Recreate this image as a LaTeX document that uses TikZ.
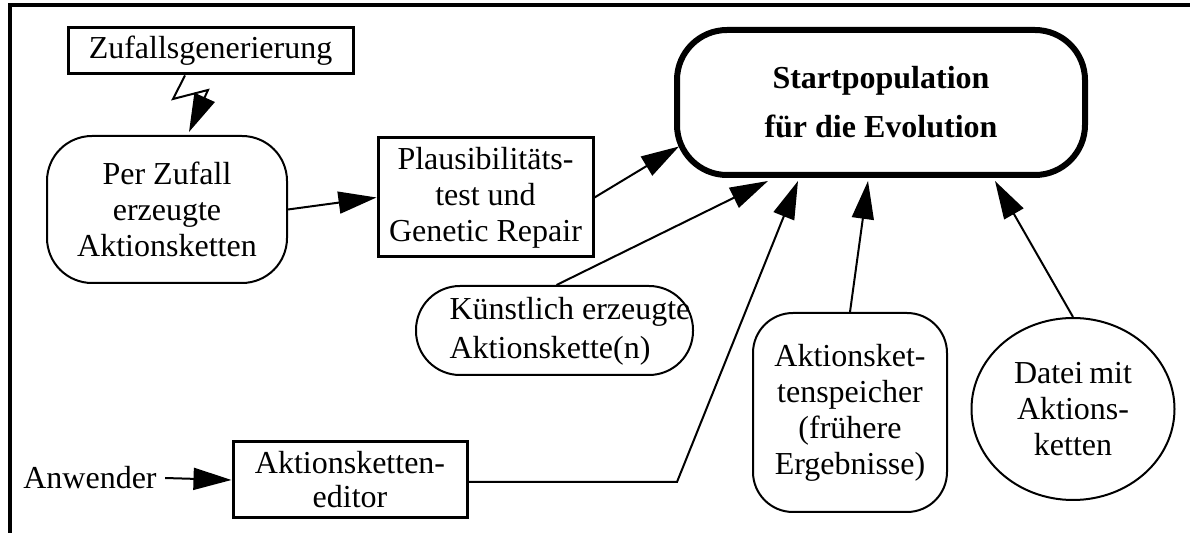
\documentclass[tikz,border=0pt]{standalone}
\usepackage{fontspec}
\setmainfont{Liberation Serif}
\usetikzlibrary{arrows.meta,shapes.geometric,calc}
\begin{document}
\begin{tikzpicture}[x=0.5pt,y=-0.5pt,
  every node/.style={font=\fontsize{16}{18}\selectfont},
  box/.style={draw, line width=1.5pt, inner sep=0pt, align=center},
  rbox/.style={draw, line width=1pt, inner sep=0pt, align=center},
  arr/.style={line width=1pt, -{Triangle[length=19pt,width=11pt]}},
  frame/.style={line width=2pt}
]
\useasboundingbox (0,0) rectangle (1190,533);
% frame
\draw[frame] (10,533) -- (10,5) -- (1190,5);

% nodes
\node[box, minimum width=142.5pt, minimum height=23pt] (zufall) at (210.5,51) {Zufallsgenerierung};
\node[rbox, rounded corners=22.5pt, minimum width=120pt, minimum height=73.5pt] (perzufall) at (167,209.5)
  {Per Zufall\\erzeugte\\Aktionsketten};
\node[box, minimum width=107.5pt, minimum height=59.5pt] (plaus) at (485.5,197.5)
  {Plausibilitäts-\\test und\\Genetic Repair};
\node[draw, line width=3pt, rounded corners=25pt, minimum width=204pt, minimum height=72.5pt, inner sep=0pt,
  align=center, font=\fontsize{16}{24.5}\selectfont\bfseries] (start) at (881,102.5)
  {Startpopulation\\für die Evolution};
\node[rbox, rounded corners=22pt, minimum width=138.5pt, minimum height=44.5pt] (kuenstlich) at (554.5,330.5) {};
\node[align=left, inner sep=0pt, font=\fontsize{16}{19.5}\selectfont] (kuenstlichtxt) at (570,331)
  {Künstlich erzeugte\\Aktionskette(n)};
\node[rbox, rounded corners=20pt, minimum width=97pt, minimum height=99.5pt] (speicher) at (850,412.5)
  {Aktionsket-\\tenspeicher\\(frühere\\Ergebnisse)};
\node[rbox, ellipse, minimum width=101.5pt, minimum height=91pt] (datei) at (1073,409)
  {Datei\hspace{-1pt} mit\\Aktions-\\ketten};
\node[inner sep=0pt] (anwender) at (90,478) {Anwender};
\node[box, minimum width=117pt, minimum height=38pt, font=\fontsize{16}{17}\selectfont] (editor) at (350,480)
  {Aktionsketten-\\editor};

% connectors
\coordinate (z1) at (173,99);
\coordinate (z2) at (208,90);
\draw[arr] ([xshift=-12.75pt]zufall.south) -- (z1) -- (z2) -- ([xshift=11pt,yshift=1.5pt]perzufall.north);
\draw[arr] (perzufall.east) -- (plaus.west);
\draw[arr] (plaus.east) -- ($(start.west)+(5,44)$);
\draw[arr] ([xshift=1pt]kuenstlich.north) -- ($(start.south)+(-113,3)$);
\draw[arr] (speicher.north) -- ($(start.south)+(-13,3)$);
\draw[arr] (datei.north) -- ($(start.south)+(114,3)$);
\coordinate (bend) at (677,482);
\draw[arr] ([yshift=-1pt]editor.east) -- (bend) -- ($(start.south)+(-83,3)$);
\draw[arr] ([xshift=4pt]anwender.east) -- (editor.west);
\end{tikzpicture}
\end{document}
